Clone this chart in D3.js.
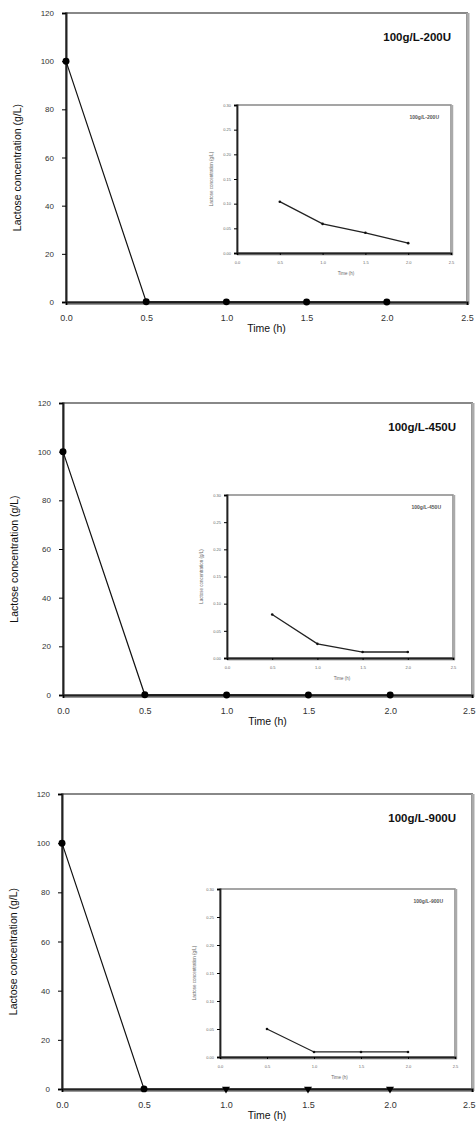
<!DOCTYPE html>
<html>
<head>
<meta charset="utf-8">
<script src="https://cdn.jsdelivr.net/npm/d3@7"></script>
<style>
  body { margin: 0; background: #fff; }
  svg { display: block; }
  text { font-family: "Liberation Sans", Arial, sans-serif; }
</style>
</head>
<body>
<svg id="chart" width="476" height="1142"></svg>
<script>
// ---- Data ----
const mainTime = [0, 0.5, 1.0, 1.5, 2.0];
const lactose200 = [100, 0.1, 0.06, 0.04, 0.02];
const lactose450 = [100, 0.08, 0.03, 0.01, 0.01];
const lactose900 = [100, 0.05, 0.01, 0.01, 0.01];

const insetTime = [0.5, 1.0, 1.5, 2.0];
const inset200 = [0.104, 0.059, 0.041, 0.020];
const inset450 = [0.080, 0.026, 0.011, 0.011];
const inset900 = [0.050, 0.009, 0.009, 0.009];

const mainXTicks = [0, 0.5, 1.0, 1.5, 2.0, 2.5];
const mainYTicks = [0, 20, 40, 60, 80, 100, 120];
const insetXTicks = [0, 0.5, 1.0, 1.5, 2.0, 2.5];
const insetYTicks = [0, 0.05, 0.10, 0.15, 0.20, 0.25, 0.30];

const panelTitles = ["100g/L-200U", "100g/L-450U", "100g/L-900U"];
const xTitle = "Time (h)";
const yTitle = "Lactose concentration (g/L)";

// ---- Layout ----
const panels = [
  { main: {l: 66, r: 467, t: 13, b: 302}, inset: {l: 237, r: 451, t: 105, b: 253},
    y: lactose200, iy: inset200, title: panelTitles[0], markerTri: false },
  { main: {l: 63, r: 472, t: 403, b: 695}, inset: {l: 227, r: 453, t: 495, b: 658},
    y: lactose450, iy: inset450, title: panelTitles[1], markerTri: false },
  { main: {l: 62, r: 472, t: 794, b: 1089}, inset: {l: 220, r: 455, t: 889, b: 1057},
    y: lactose900, iy: inset900, title: panelTitles[2], markerTri: true }
];

const W = 476;
const svg = d3.select("#chart");

function drawMain(p) {
  const m = p.main;
  const g = svg.append("g");
  const x = d3.scaleLinear().domain([0, 2.5]).range([m.l, m.r]);
  const y = d3.scaleLinear().domain([0, 120]).range([m.b, m.t]);

  // frame
  g.append("rect").attr("x", m.l).attr("y", m.t).attr("width", m.r - m.l).attr("height", m.b - m.t)
    .attr("fill", "none").attr("stroke", "#888").attr("stroke-width", 2);
  g.append("line").attr("x1", m.r + 1).attr("x2", m.r + 1).attr("y1", m.t).attr("y2", m.b + 2)
    .attr("stroke", "#aaa").attr("stroke-width", 3);
  g.append("line").attr("x1", m.l).attr("x2", m.r + 2).attr("y1", m.b + 1).attr("y2", m.b + 1)
    .attr("stroke", "#999").attr("stroke-width", 4);

  const yAxis = d3.axisLeft(y).tickValues(mainYTicks).tickSize(4).tickFormat(d3.format("d"));
  const ya = g.append("g").attr("transform", `translate(${m.l},0)`).call(yAxis);
  ya.select(".domain").attr("stroke", "#222").attr("stroke-width", 2);
  ya.selectAll("text").attr("font-size", 8).attr("fill", "#333").attr("x", -12);

  const xAxis = d3.axisBottom(x).tickValues(mainXTicks).tickSize(3).tickFormat(d3.format(".1f"));
  const xa = g.append("g").attr("transform", `translate(0,${m.b})`).call(xAxis);
  xa.select(".domain").attr("stroke", "#222").attr("stroke-width", 2);
  xa.selectAll("text").attr("font-size", 9).attr("fill", "#333").attr("dy", "1.4em");
  // keep the last label inside the page
  xa.selectAll(".tick").filter(d => x(d) + 8 > W).select("text")
    .attr("text-anchor", "end").attr("x", d => W - 1 - x(d));

  // titles
  g.append("text").attr("x", (m.l + m.r) / 2).attr("y", m.b + 30).attr("text-anchor", "middle")
    .attr("font-size", 10.5).attr("fill", "#111").text(xTitle);
  g.append("text").attr("transform", `translate(${m.l - 45},${(m.t + m.b) / 2 + 10}) rotate(-90)`)
    .attr("text-anchor", "middle").attr("font-size", 10.5).attr("fill", "#111").text(yTitle);
  g.append("text").attr("x", m.r - 16).attr("y", m.t + 28).attr("text-anchor", "end")
    .attr("font-size", 11.5).attr("font-weight", "bold").attr("fill", "#111").text(p.title);

  // series
  const pts = mainTime.map((t, i) => [t, p.y[i]]);
  g.append("path").datum(pts).attr("fill", "none").attr("stroke", "#111").attr("stroke-width", 1.2)
    .attr("d", d3.line().x(d => x(d[0])).y(d => y(d[1])));
  g.selectAll("path.mk").data(pts).join("path").attr("class", "mk")
    .attr("d", (d, i) => d3.symbol().type(p.markerTri && i >= 2 ? d3.symbolTriangle : d3.symbolCircle)
      .size(p.markerTri && i >= 2 ? 28 : 38)())
    .attr("transform", (d, i) => `translate(${x(d[0])},${y(d[1])})` + (p.markerTri && i >= 2 ? " rotate(180)" : ""))
    .attr("fill", "#000");
}

function drawInset(p) {
  const m = p.inset;
  const g = svg.append("g");
  const x = d3.scaleLinear().domain([0, 2.5]).range([m.l, m.r]);
  const y = d3.scaleLinear().domain([0, 0.30]).range([m.b, m.t]);

  g.append("rect").attr("x", m.l).attr("y", m.t).attr("width", m.r - m.l).attr("height", m.b - m.t)
    .attr("fill", "#fff").attr("stroke", "#888").attr("stroke-width", 1.5);
  g.append("line").attr("x1", m.r + 1).attr("x2", m.r + 1).attr("y1", m.t).attr("y2", m.b + 2)
    .attr("stroke", "#aaa").attr("stroke-width", 2.5);
  g.append("line").attr("x1", m.l).attr("x2", m.r + 2).attr("y1", m.b + 1).attr("y2", m.b + 1)
    .attr("stroke", "#aaa").attr("stroke-width", 3);

  const yAxis = d3.axisLeft(y).tickValues(insetYTicks).tickSize(3).tickFormat(d3.format(".2f"));
  const ya = g.append("g").attr("transform", `translate(${m.l},0)`).call(yAxis);
  ya.select(".domain").attr("stroke", "#222").attr("stroke-width", 1.8);
  ya.selectAll("text").attr("font-size", 4).attr("fill", "#666");

  const xAxis = d3.axisBottom(x).tickValues(insetXTicks).tickSize(2).tickFormat(d3.format(".1f"));
  const xa = g.append("g").attr("transform", `translate(0,${m.b})`).call(xAxis);
  xa.select(".domain").attr("stroke", "#222").attr("stroke-width", 1.8);
  xa.selectAll("text").attr("font-size", 4).attr("fill", "#666").attr("dy", "1.6em");

  g.append("text").attr("x", (m.l + m.r) / 2 + 2).attr("y", m.b + 22).attr("text-anchor", "middle")
    .attr("font-size", 4.5).attr("fill", "#666").text(xTitle);
  g.append("text").attr("transform", `translate(${m.l - 24},${(m.t + m.b) / 2}) rotate(-90)`)
    .attr("text-anchor", "middle").attr("font-size", 4.5).attr("fill", "#666").text(yTitle);
  g.append("text").attr("x", m.r - 12).attr("y", m.t + 14).attr("text-anchor", "end")
    .attr("font-size", 5).attr("font-weight", "bold").attr("fill", "#555").text(p.title);

  const pts = insetTime.map((t, i) => [t, p.iy[i]]);
  g.append("path").datum(pts).attr("fill", "none").attr("stroke", "#222").attr("stroke-width", 1.3)
    .attr("d", d3.line().x(d => x(d[0])).y(d => y(d[1])));
  g.selectAll("circle").data(pts).join("circle")
    .attr("cx", d => x(d[0])).attr("cy", d => y(d[1])).attr("r", 1.3).attr("fill", "#111");
}

panels.forEach(p => { drawMain(p); drawInset(p); });
</script>
</body>
</html>
